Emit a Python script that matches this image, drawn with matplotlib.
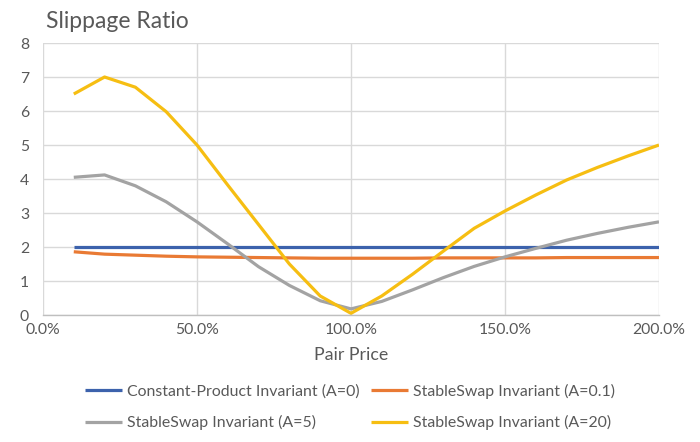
import matplotlib
matplotlib.use("Agg")
import matplotlib.pyplot as plt
from matplotlib.ticker import FuncFormatter, MultipleLocator

plt.rcParams['font.family'] = ['Lato', 'DejaVu Sans']

pair_price = [0.1, 0.2, 0.3, 0.4, 0.5, 0.6, 0.7, 0.8, 0.9, 1.0,
              1.1, 1.2, 1.3, 1.4, 1.5, 1.6, 1.7, 1.8, 1.9, 2.0]
constant_product = [2.0] * 20
stableswap_01 = [1.86, 1.79, 1.76, 1.73, 1.71, 1.70, 1.69, 1.68, 1.67, 1.67,
                 1.67, 1.67, 1.68, 1.68, 1.68, 1.68, 1.69, 1.69, 1.69, 1.69]
stableswap_5 = [4.05, 4.12, 3.80, 3.33, 2.74, 2.09, 1.42, 0.87, 0.42, 0.18,
                0.40, 0.74, 1.10, 1.43, 1.71, 1.96, 2.20, 2.40, 2.58, 2.74]
stableswap_20 = [6.50, 7.00, 6.70, 5.98, 5.00, 3.82, 2.66, 1.50, 0.56, 0.05,
                 0.56, 1.20, 1.88, 2.55, 3.06, 3.53, 3.97, 4.34, 4.68, 5.00]

labels = ["Constant-Product Invariant (A=0)", "StableSwap Invariant (A=0.1)",
          "StableSwap Invariant (A=5)", "StableSwap Invariant (A=20)"]
colors = ["#3C62AC", "#E97A34", "#A3A3A3", "#F6BE12"]
series = [constant_product, stableswap_01, stableswap_5, stableswap_20]

fig = plt.figure(figsize=(7.0, 4.42), dpi=100)
ax = fig.add_axes([0.0614, 0.2873, 0.88, 0.6154])

lines = []
for s, c, l in zip(series, colors, labels):
    ln, = ax.plot(pair_price, s, color=c, lw=2.3, label=l, solid_capstyle='butt')
    lines.append(ln)

ax.set_xlim(0, 2.0)
ax.set_ylim(0, 8)
ax.xaxis.set_major_locator(MultipleLocator(0.5))
ax.yaxis.set_major_locator(MultipleLocator(1))
ax.xaxis.set_major_formatter(FuncFormatter(lambda v, p: f"{v*100:.1f}%"))
ax.grid(True, color="#D9D9D9", lw=1.0)
ax.set_axisbelow(True)
for sp in ['top', 'right', 'left']:
    ax.spines[sp].set_visible(False)
ax.spines['bottom'].set_color("#BFBFBF")
ax.spines['bottom'].set_linewidth(1.0)
ax.tick_params(length=0, labelsize=11.3, labelcolor="#595959", pad=6)
ax.tick_params(axis='y', pad=10)
ax.set_xlabel("Pair Price", fontsize=12.8, color="#595959", labelpad=7)

fig.text(0.066, 0.952, "Slippage Ratio", fontsize=16.5, color="#595959",
         ha='left', va='center')

order = [0, 2, 1, 3]
fig.legend([lines[i] for i in order], [labels[i] for i in order],
           loc='center', bbox_to_anchor=(0.5, 0.079), ncol=2, frameon=False,
           fontsize=11.4, labelcolor="#595959", handlelength=2.35,
           handletextpad=0.3, columnspacing=0.7, labelspacing=1.05)

fig.savefig("out.png", dpi=100)
